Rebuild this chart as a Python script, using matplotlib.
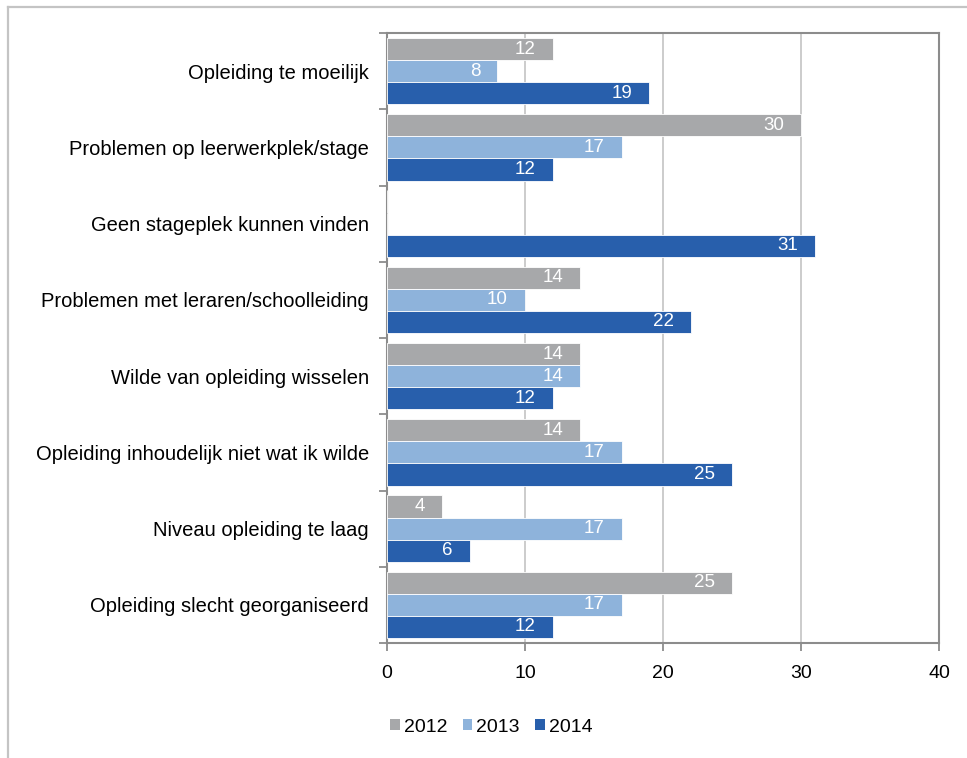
import numpy as np
import matplotlib
matplotlib.use("Agg")
import matplotlib.pyplot as plt
from matplotlib.lines import Line2D
from matplotlib.patches import Patch

plt.rcParams['font.family'] = ['Liberation Sans', 'DejaVu Sans']

categories = [
    "Opleiding te moeilijk",
    "Problemen op leerwerkplek/stage",
    "Geen stageplek kunnen vinden",
    "Problemen met leraren/schoolleiding",
    "Wilde van opleiding wisselen",
    "Opleiding inhoudelijk niet wat ik wilde",
    "Niveau opleiding te laag",
    "Opleiding slecht georganiseerd",
]
series_names = ["2012", "2013", "2014"]
values_2012 = [12, 30, np.nan, 14, 14, 14, 4, 25]
values_2013 = [8, 17, np.nan, 10, 14, 17, 17, 17]
values_2014 = [19, 12, 31, 22, 12, 25, 6, 12]
colors = ["#A7A8AA", "#8EB3DB", "#285FAC"]
x_ticks = [0, 10, 20, 30, 40]

fig = plt.figure(figsize=(9.67, 7.58), dpi=100)
ax = fig.add_axes([387/967, 1-643/758, (939-387)/967, (643-33)/758])

n = len(categories)
group = np.arange(n)
bh = 0.29
offsets = [-bh, 0, bh]
all_vals = [values_2012, values_2013, values_2014]
for vals, off, col, name in zip(all_vals, offsets, colors, series_names):
    v = np.array(vals, dtype=float)
    ax.barh(group + off, np.nan_to_num(v), height=bh, color=col,
            edgecolor="white", linewidth=0.6, label=name, zorder=3)
    for yi, val in zip(group + off, v):
        if np.isnan(val):
            continue
        ax.annotate(f"{int(val)}", xy=(val, yi), xytext=(-17, 0),
                    textcoords="offset pixels", ha="right", va="center",
                    color="white", fontsize=13.5, zorder=4)

ax.set_xlim(0, 40)
ax.set_ylim(n - 0.5, -0.5)
ax.set_xticks(x_ticks)
ax.set_xticklabels([str(t) for t in x_ticks], fontsize=14)
ax.xaxis.grid(True, color="#C8C8C8", linewidth=1.3, zorder=0)
ax.set_axisbelow(True)

# category boundary ticks and label ticks
ax.set_yticks(np.arange(-0.5, n, 1.0))
ax.set_yticklabels([])
ax.set_yticks(group, minor=True)
ax.set_yticklabels(categories, minor=True, fontsize=14.5)
ax.tick_params(axis="y", which="minor", length=0, pad=13)
ax.tick_params(axis="y", which="major", length=6, color="#8C8C8C", width=1.3)
ax.tick_params(axis="x", length=6, color="#8C8C8C", width=1.3, pad=10)

for side in ["left", "bottom", "top", "right"]:
    ax.spines[side].set_color("#8C8C8C")
    ax.spines[side].set_linewidth(1.5)

handles = [Patch(facecolor=c, edgecolor="none") for c in colors]
fig.legend(handles, series_names, loc="center", bbox_to_anchor=(0.508, 1-727/758),
           ncol=3, frameon=False, fontsize=14, handlelength=0.5, handleheight=0.5,
           handletextpad=0.2, columnspacing=0.8)

# outer frame
fig.add_artist(Line2D([8/967, 1], [1-7/758, 1-7/758], transform=fig.transFigure,
                      color="#C4C4C4", linewidth=1.6))
fig.add_artist(Line2D([8/967, 8/967], [0, 1-7/758], transform=fig.transFigure,
                      color="#C4C4C4", linewidth=1.6))

fig.savefig("out.png", dpi=100)
